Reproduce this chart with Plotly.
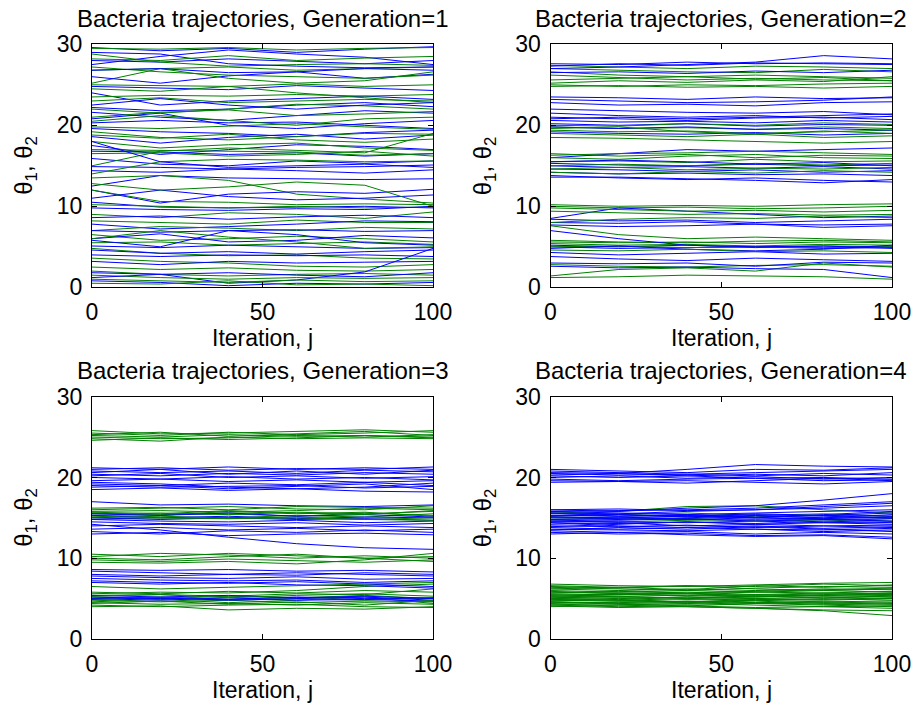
import plotly.graph_objects as go

iterations = [0, 20, 40, 60, 80, 100]
generations = [1, 2, 3, 4]
tick_x = [0, 50, 100]
tick_y = [0, 10, 20, 30]

# ---------------- Generation 1 ----------------
gen1_theta1 = [
    [29.6, 29.2, 29.5, 29.0, 29.4, 29.7], [28.0, 27.8, 28.2, 27.9, 27.6, 28.0],
    [27.5, 28.5, 29.3, 28.8, 28.4, 27.5], [26.0, 25.2, 26.1, 26.6, 25.8, 26.3],
    [24.8, 24.6, 24.4, 24.9, 24.6, 24.3], [24.0, 22.5, 23.0, 23.3, 23.6, 23.2],
    [22.2, 21.8, 22.0, 22.5, 22.8, 22.3], [21.6, 21.0, 20.6, 21.2, 21.8, 21.5],
    [20.8, 21.5, 20.0, 19.6, 20.2, 20.6], [20.3, 20.6, 20.3, 20.4, 20.0, 19.6],
    [19.6, 19.2, 19.0, 18.6, 19.1, 19.4], [18.6, 17.8, 18.5, 18.9, 18.3, 18.8],
    [17.5, 16.4, 17.0, 17.6, 17.4, 17.0], [16.8, 16.7, 16.4, 16.6, 16.2, 16.5],
    [15.9, 15.2, 15.0, 15.6, 15.3, 15.6], [14.9, 14.8, 14.6, 14.8, 14.9, 15.1],
    [14.4, 14.2, 14.6, 14.4, 14.1, 14.5], [12.5, 13.8, 13.5, 13.4, 13.3, 13.4],
    [12.0, 10.4, 11.5, 11.8, 11.6, 12.1], [10.5, 9.9, 9.8, 9.9, 10.0, 9.8],
    [9.8, 9.6, 9.5, 9.7, 9.6, 10.0], [8.6, 8.8, 8.4, 8.7, 8.9, 8.6],
    [7.8, 7.2, 7.5, 7.8, 8.2, 8.1], [7.0, 6.8, 7.0, 7.1, 6.9, 7.0],
    [6.0, 6.6, 5.6, 5.8, 6.4, 6.1], [5.1, 4.9, 5.2, 5.0, 4.8, 4.9],
    [4.6, 4.2, 4.4, 4.1, 4.4, 4.6], [4.0, 3.8, 4.0, 3.9, 4.0, 3.8],
    [3.2, 2.8, 3.2, 3.0, 3.1, 3.2], [1.8, 1.6, 0.5, 0.9, 1.9, 4.8],
    [1.2, 1.6, 1.8, 1.5, 1.3, 1.8], [0.8, 0.6, 0.2, 0.5, 0.4, 0.6],
    [5.8, 5.0, 7.0, 6.5, 5.5, 5.2], [11.0, 12.0, 11.2, 10.8, 11.0, 11.4],
    [18.0, 15.5, 14.8, 15.0, 15.2, 14.8], [29.0, 28.8, 27.6, 27.3, 27.1, 27.2],
    [22.5, 23.3, 22.5, 22.0, 22.5, 22.8], [26.8, 27.0, 26.5, 26.6, 27.0, 26.8],
]
gen1_theta2 = [
    [29.5, 29.4, 29.6, 29.3, 29.5, 29.6], [28.8, 27.8, 27.3, 27.5, 27.6, 27.4],
    [25.2, 27.0, 27.2, 26.8, 27.0, 27.2], [27.2, 26.6, 26.2, 26.0, 25.8, 26.2],
    [26.8, 27.0, 25.8, 25.2, 25.5, 26.6], [25.0, 24.9, 24.8, 25.1, 24.8, 25.0],
    [24.5, 24.2, 24.8, 24.0, 23.4, 22.8], [23.0, 23.4, 22.8, 23.0, 23.2, 23.0],
    [22.0, 21.5, 22.0, 22.6, 22.4, 22.0], [21.0, 21.6, 21.9, 21.2, 21.4, 21.7],
    [19.8, 19.6, 19.9, 20.2, 19.8, 19.5], [19.2, 18.5, 18.2, 18.6, 19.0, 18.9],
    [18.0, 17.2, 17.6, 17.8, 17.2, 16.9], [17.0, 16.9, 16.8, 16.7, 16.3, 16.5],
    [16.5, 16.6, 16.2, 16.4, 16.8, 16.2], [15.0, 16.8, 17.2, 16.9, 16.6, 19.0],
    [14.0, 15.5, 15.8, 15.7, 15.5, 15.6], [13.5, 13.8, 13.2, 11.5, 10.9, 10.4],
    [12.0, 10.6, 10.5, 10.2, 10.3, 10.2], [10.2, 10.0, 9.8, 10.0, 9.8, 9.9],
    [9.0, 8.6, 9.2, 9.0, 8.5, 9.3], [8.2, 8.0, 7.8, 8.3, 8.0, 8.0],
    [7.0, 7.5, 7.3, 7.0, 7.4, 7.2], [6.5, 5.8, 6.0, 6.3, 6.0, 5.6],
    [5.5, 5.6, 5.2, 5.4, 5.6, 5.3], [4.8, 4.2, 3.9, 4.0, 3.6, 3.5],
    [3.6, 3.2, 3.0, 2.6, 2.5, 2.8], [2.5, 2.2, 2.4, 2.1, 2.0, 2.2],
    [2.0, 1.6, 1.4, 1.6, 1.7, 1.5], [1.5, 1.2, 1.0, 1.2, 1.1, 1.2],
    [1.0, 0.8, 0.6, 0.9, 0.7, 0.8], [0.5, 0.4, 0.8, 0.3, 0.4, 0.2],
    [20.5, 21.2, 20.6, 20.0, 20.8, 21.0], [12.8, 12.0, 12.4, 13.0, 12.6, 10.0],
    [6.0, 7.0, 6.2, 5.6, 4.8, 5.0], [28.2, 28.0, 28.6, 28.0, 28.3, 28.5],
    [23.5, 23.7, 23.6, 23.8, 23.6, 23.8], [18.8, 18.4, 18.9, 18.2, 17.9, 18.3],
]

# ---------------- Generation 2 ----------------
gen2_theta1 = [
    [27.6, 27.5, 27.8, 27.6, 27.7, 27.6], [27.3, 27.6, 27.4, 27.7, 27.6, 27.5],
    [27.0, 27.2, 27.5, 27.8, 28.6, 28.2], [26.5, 26.6, 26.4, 26.7, 26.5, 26.8],
    [23.2, 23.0, 22.8, 22.9, 23.1, 23.5], [22.8, 22.5, 22.6, 22.4, 22.8, 22.9],
    [22.0, 21.8, 21.6, 21.5, 21.7, 21.3], [21.5, 21.2, 21.0, 21.2, 20.9, 21.1],
    [21.0, 20.8, 20.6, 20.9, 21.0, 20.7], [20.6, 20.4, 20.5, 20.3, 20.6, 20.4],
    [20.2, 20.0, 20.2, 19.9, 20.1, 20.0], [19.8, 19.6, 19.8, 19.5, 19.6, 19.4],
    [19.2, 19.0, 18.9, 19.1, 18.8, 19.0], [16.0, 16.5, 17.0, 16.8, 17.0, 17.2],
    [15.3, 15.1, 15.0, 15.2, 15.0, 15.1], [15.0, 14.8, 14.9, 14.7, 14.9, 14.6],
    [14.6, 14.5, 14.3, 14.5, 14.2, 14.4], [14.2, 14.0, 14.1, 13.9, 14.0, 13.8],
    [13.8, 13.5, 13.3, 13.5, 13.2, 13.0], [13.6, 13.6, 13.4, 13.2, 12.9, 13.3],
    [8.5, 9.8, 9.4, 9.0, 8.6, 8.8], [8.4, 8.2, 8.3, 8.0, 8.2, 8.4],
    [8.0, 7.9, 8.1, 7.8, 7.7, 7.8], [7.7, 7.5, 7.6, 7.8, 7.4, 7.6],
    [5.2, 5.0, 5.2, 4.9, 5.1, 5.0], [5.0, 4.8, 4.9, 5.0, 4.8, 4.9],
    [4.8, 5.1, 4.7, 4.5, 4.7, 5.2], [4.3, 4.0, 4.2, 4.4, 4.1, 4.2],
    [3.8, 3.5, 3.3, 3.6, 3.4, 3.2], [3.0, 2.9, 3.0, 2.6, 3.1, 3.0],
    [2.6, 2.4, 2.5, 2.3, 2.2, 1.2], [7.0, 6.0, 5.2, 5.0, 5.1, 4.8],
    [20.8, 21.0, 20.8, 21.0, 21.2, 21.4], [15.5, 15.7, 15.5, 15.2, 15.4, 15.0],
    [23.5, 23.4, 23.2, 23.5, 23.3, 23.4],
]
gen2_theta2 = [
    [27.4, 27.2, 27.0, 27.3, 27.2, 27.0], [27.0, 26.8, 26.6, 26.5, 26.9, 26.6],
    [26.6, 26.2, 26.0, 26.2, 26.0, 25.8], [26.2, 25.9, 25.6, 25.8, 25.6, 25.5],
    [25.0, 24.8, 25.0, 24.9, 25.1, 25.2], [24.8, 24.9, 24.7, 24.8, 24.6, 24.8],
    [25.2, 25.5, 25.3, 25.6, 25.4, 26.0], [19.8, 19.6, 19.7, 19.5, 19.8, 19.6],
    [19.4, 19.2, 19.3, 19.0, 19.2, 19.4], [19.0, 18.8, 18.6, 18.9, 18.5, 18.7],
    [18.5, 18.4, 18.2, 18.0, 17.8, 18.0], [20.0, 19.9, 20.2, 20.0, 20.3, 20.1],
    [16.5, 16.2, 16.4, 16.0, 16.3, 16.2], [16.0, 15.8, 16.2, 16.4, 16.0, 15.9],
    [15.5, 15.6, 15.4, 15.8, 15.5, 15.6], [15.0, 15.2, 15.0, 15.3, 15.1, 15.3],
    [14.6, 14.8, 14.5, 14.7, 14.6, 14.8], [16.3, 16.5, 16.6, 16.8, 16.6, 16.4],
    [10.2, 10.0, 10.1, 10.0, 10.2, 10.3], [10.0, 9.8, 9.9, 9.7, 9.8, 10.0],
    [9.8, 9.6, 9.4, 9.5, 9.3, 9.5], [9.4, 9.2, 9.0, 9.1, 8.9, 9.0],
    [7.6, 6.5, 6.0, 6.2, 6.0, 5.8], [5.6, 5.5, 5.6, 5.4, 5.6, 5.5],
    [5.4, 5.2, 5.3, 5.1, 5.3, 5.2], [5.0, 5.1, 4.9, 5.0, 4.9, 5.0],
    [5.8, 5.6, 5.5, 5.7, 5.8, 5.6], [4.6, 4.5, 4.7, 4.4, 4.5, 4.3],
    [2.8, 2.6, 2.5, 2.7, 2.8, 2.6], [1.4, 2.2, 2.4, 2.0, 3.0, 2.5],
    [1.2, 1.3, 1.5, 1.4, 1.3, 1.0], [8.0, 8.4, 8.6, 8.5, 8.8, 8.6],
    [25.6, 25.8, 26.0, 25.7, 25.9, 25.5], [14.2, 14.0, 14.3, 14.1, 14.4, 14.2],
    [19.6, 19.8, 19.2, 18.9, 19.3, 19.0],
]

# ---------------- Generation 3 ----------------
gen3_theta1 = [
    [21.0, 21.2, 20.9, 21.1, 21.0, 21.3], [20.8, 20.6, 20.8, 20.5, 20.9, 20.7],
    [20.6, 21.0, 20.4, 20.8, 20.4, 20.9], [20.4, 20.2, 20.5, 20.3, 20.6, 20.4],
    [20.2, 20.5, 20.0, 20.2, 19.9, 20.1], [20.0, 19.8, 20.1, 19.8, 20.0, 19.7],
    [19.6, 19.8, 19.5, 19.7, 19.4, 19.6], [19.2, 19.0, 19.3, 19.1, 19.4, 19.0],
    [19.0, 18.8, 18.9, 19.0, 18.7, 18.9], [18.8, 19.0, 18.6, 18.9, 19.2, 18.5],
    [19.4, 19.2, 18.8, 18.6, 18.8, 19.3], [17.0, 16.6, 16.7, 16.5, 16.4, 16.6],
    [15.3, 15.0, 15.2, 14.9, 15.1, 15.0], [15.0, 14.8, 15.0, 14.8, 14.9, 14.7],
    [14.8, 14.6, 14.5, 14.7, 14.4, 14.6], [14.5, 14.3, 14.2, 14.4, 14.1, 14.3],
    [14.0, 14.2, 14.0, 13.8, 14.0, 13.8], [13.6, 13.8, 13.5, 13.7, 13.4, 13.6],
    [13.3, 13.0, 13.4, 13.2, 13.5, 13.2], [13.0, 13.2, 12.8, 13.0, 13.1, 12.9],
    [14.2, 13.5, 12.6, 11.8, 11.3, 11.1], [15.5, 15.3, 15.6, 15.2, 15.4, 15.1],
    [8.6, 8.5, 8.6, 8.4, 8.5, 8.3], [8.4, 8.2, 8.0, 8.2, 8.0, 7.8],
    [8.0, 7.8, 8.0, 7.9, 8.2, 8.0], [7.8, 7.6, 7.5, 7.7, 7.4, 7.5],
    [7.5, 7.3, 7.2, 7.3, 7.0, 7.2], [7.2, 7.0, 6.9, 7.1, 6.8, 6.5],
    [7.0, 6.8, 7.0, 6.7, 6.6, 6.3], [5.4, 5.2, 5.4, 5.1, 5.3, 5.0],
    [5.2, 5.0, 4.9, 5.2, 5.0, 5.1], [5.0, 4.8, 5.1, 4.8, 4.9, 4.7],
    [4.9, 5.1, 4.8, 5.0, 5.2, 4.8], [21.2, 21.0, 21.3, 21.0, 21.2, 21.0],
    [18.5, 18.7, 18.4, 18.6, 18.3, 18.2],
]
gen3_theta2 = [
    [25.8, 25.4, 25.5, 25.7, 25.9, 25.6], [25.5, 25.2, 25.6, 25.3, 25.5, 25.8],
    [25.2, 25.0, 25.3, 25.1, 25.2, 25.0], [25.0, 24.8, 24.9, 25.2, 25.0, 25.3],
    [24.8, 24.5, 25.0, 24.8, 24.9, 24.8], [24.6, 24.9, 24.7, 24.9, 25.2, 24.9],
    [16.0, 16.2, 16.4, 16.1, 16.0, 16.5], [15.8, 15.9, 15.7, 15.9, 16.2, 16.0],
    [15.5, 15.6, 15.4, 15.7, 15.5, 15.8], [15.3, 15.4, 15.5, 15.2, 15.6, 15.3],
    [15.0, 15.2, 15.0, 15.3, 15.1, 15.5], [15.6, 15.3, 15.8, 15.5, 15.7, 15.2],
    [14.8, 15.0, 14.9, 15.1, 14.8, 15.0], [10.2, 10.6, 10.4, 10.0, 10.3, 10.0],
    [10.0, 9.8, 10.2, 10.5, 10.0, 9.6], [9.8, 9.6, 9.9, 9.7, 9.5, 9.8],
    [9.5, 9.4, 9.6, 9.3, 9.8, 10.6], [5.6, 5.8, 5.7, 6.0, 6.5, 6.8],
    [5.4, 5.5, 5.3, 5.6, 5.5, 6.2], [5.2, 5.0, 5.3, 5.1, 5.4, 5.0],
    [5.0, 5.2, 4.9, 5.0, 4.8, 5.1], [4.8, 4.6, 4.8, 4.5, 4.7, 4.6],
    [4.5, 4.3, 4.4, 4.2, 4.5, 4.3], [4.2, 4.0, 4.2, 4.3, 4.0, 3.9],
    [4.0, 4.1, 3.6, 3.8, 3.7, 4.0], [5.8, 5.6, 5.9, 5.7, 6.0, 5.8],
    [4.6, 4.9, 4.5, 4.8, 5.2, 4.4], [10.5, 10.2, 10.6, 10.3, 10.0, 10.2],
    [15.2, 15.0, 14.9, 15.0, 14.8, 14.7], [16.2, 16.3, 16.0, 16.4, 16.3, 16.2],
    [6.5, 6.2, 6.4, 6.6, 6.8, 7.0], [25.3, 25.6, 25.1, 25.4, 25.7, 25.2],
    [15.7, 15.5, 15.9, 15.6, 15.4, 15.9], [4.4, 4.7, 4.3, 4.6, 4.2, 4.8],
    [5.3, 5.5, 5.1, 5.4, 5.6, 5.3],
]

# ---------------- Generation 4 ----------------
gen4_theta1 = [
    [21.0, 20.8, 20.6, 21.0, 20.9, 21.2], [20.8, 20.6, 20.4, 20.6, 20.8, 21.0],
    [20.6, 20.5, 21.0, 21.6, 21.4, 21.3], [20.5, 20.3, 20.4, 20.2, 20.5, 20.3],
    [20.3, 20.5, 20.2, 20.4, 20.2, 20.6], [20.2, 20.0, 20.2, 19.9, 20.0, 19.8],
    [20.0, 20.2, 19.9, 20.1, 19.8, 20.0], [19.8, 19.6, 19.8, 19.9, 19.6, 19.7],
    [19.6, 19.5, 19.6, 19.4, 19.2, 19.5], [19.4, 19.5, 19.3, 19.6, 19.9, 19.6],
    [16.0, 15.8, 16.2, 16.5, 17.2, 18.0], [15.8, 15.9, 16.0, 16.2, 16.6, 17.0],
    [15.6, 15.5, 15.8, 16.0, 16.4, 16.8], [15.5, 15.4, 15.2, 15.5, 15.3, 15.6],
    [15.3, 15.2, 15.4, 15.1, 15.3, 15.2], [15.1, 15.0, 15.2, 15.0, 14.9, 15.1],
    [15.0, 14.9, 14.8, 15.0, 14.8, 14.9], [14.8, 14.7, 14.9, 14.6, 14.8, 14.6],
    [14.6, 14.5, 14.4, 14.6, 14.4, 14.5], [14.4, 14.3, 14.5, 14.2, 14.4, 14.2],
    [14.2, 14.4, 14.0, 14.2, 14.0, 14.1], [14.0, 13.9, 14.1, 13.8, 14.0, 13.8],
    [13.8, 13.6, 13.8, 13.6, 13.5, 13.7], [13.6, 13.5, 13.4, 13.6, 13.3, 13.5],
    [13.4, 13.2, 13.3, 13.0, 13.2, 13.0], [13.2, 13.0, 13.1, 12.8, 12.9, 12.6],
    [13.0, 13.2, 12.9, 12.7, 12.8, 12.4], [15.8, 15.6, 15.4, 15.6, 15.8, 16.0],
    [14.6, 14.8, 15.0, 15.3, 15.0, 15.4], [13.9, 14.2, 14.5, 14.3, 14.6, 14.4],
    [15.2, 15.4, 15.1, 15.4, 15.2, 15.0], [14.4, 14.0, 13.8, 14.0, 13.7, 13.9],
    [15.6, 15.2, 15.3, 15.0, 15.4, 15.8], [13.5, 13.8, 13.6, 13.9, 13.6, 13.3],
    [16.0, 16.1, 15.9, 16.0, 16.2, 16.5],
]
gen4_theta2 = [
    [15.6, 15.8, 16.4, 16.5, 16.0, 15.6], [15.2, 15.4, 15.6, 15.3, 15.5, 15.2],
    [15.0, 15.1, 14.9, 15.2, 15.0, 15.1], [14.8, 15.0, 14.8, 14.7, 14.9, 14.6],
    [14.6, 14.5, 14.7, 14.8, 14.6, 14.9], [6.8, 6.6, 6.5, 6.7, 6.9, 7.0],
    [6.6, 6.4, 6.6, 6.5, 6.8, 6.6], [6.4, 6.2, 6.0, 6.3, 6.5, 6.4],
    [6.2, 6.0, 6.2, 6.0, 6.2, 6.1], [6.0, 5.8, 6.0, 5.8, 6.0, 5.8],
    [5.8, 5.7, 5.6, 5.8, 5.7, 5.6], [5.6, 5.5, 5.6, 5.4, 5.6, 5.5],
    [5.5, 5.3, 5.4, 5.2, 5.4, 5.2], [5.3, 5.2, 5.1, 5.3, 5.1, 5.3],
    [5.2, 5.0, 5.2, 5.0, 5.2, 5.0], [5.0, 5.1, 4.9, 5.0, 4.9, 5.1],
    [4.9, 4.8, 5.0, 4.8, 5.0, 4.8], [4.8, 4.7, 4.6, 4.8, 4.6, 4.7],
    [4.6, 4.5, 4.7, 4.5, 4.6, 4.4], [4.5, 4.4, 4.3, 4.5, 4.3, 4.2],
    [4.3, 4.2, 4.4, 4.2, 4.0, 4.1], [4.2, 4.0, 4.1, 3.9, 4.0, 3.8],
    [4.0, 4.2, 4.0, 3.8, 3.6, 3.5], [4.1, 3.9, 4.0, 3.8, 3.5, 2.9],
    [6.2, 6.4, 6.1, 6.6, 6.4, 6.7], [5.7, 5.9, 5.7, 5.9, 6.1, 6.3],
    [5.4, 5.6, 5.3, 5.5, 5.7, 5.9], [5.1, 5.3, 5.0, 5.2, 5.4, 5.6],
    [4.7, 4.9, 4.6, 4.9, 4.8, 5.0], [4.4, 4.6, 4.5, 4.7, 4.4, 4.5],
    [5.9, 5.6, 5.8, 5.5, 5.3, 5.4], [6.5, 6.3, 6.6, 6.2, 6.0, 6.2],
    [4.6, 4.3, 4.1, 4.4, 4.2, 4.0], [5.3, 5.5, 5.6, 5.3, 5.5, 5.7],
    [5.0, 4.8, 4.6, 4.4, 4.5, 4.3],
]

theta1_all = [gen1_theta1, gen2_theta1, gen3_theta1, gen4_theta1]
theta2_all = [gen1_theta2, gen2_theta2, gen3_theta2, gen4_theta2]

BLUE = "#0000ff"
GREEN = "#008000"
FONT = "Liberation Sans, Arial, Helvetica, sans-serif"

W, H = 917, 706
# plot-area pixel boxes (left, right, top, bottom)
boxes = [(92, 433, 44.3, 287.3), (550.5, 892, 44.3, 287.3),
         (92, 433, 396.7, 639), (550.5, 892, 396.7, 639)]

fig = go.Figure()
layout = dict(width=W, height=H, autosize=False,
              margin=dict(l=0, r=0, t=0, b=0, pad=0, autoexpand=False),
              paper_bgcolor="white", plot_bgcolor="white", showlegend=False)
annotations = []

for i, g in enumerate(generations):
    sfx = "" if i == 0 else str(i + 1)
    xa, ya = "x" + sfx, "y" + sfx
    t1, t2 = theta1_all[i], theta2_all[i]
    n = max(len(t1), len(t2))
    for k in range(n):
        if k < len(t1):
            fig.add_trace(go.Scatter(x=iterations, y=t1[k], mode="lines",
                                     line=dict(color=BLUE, width=1),
                                     xaxis=xa, yaxis=ya, hoverinfo="skip"))
        if k < len(t2):
            fig.add_trace(go.Scatter(x=iterations, y=t2[k], mode="lines",
                                     line=dict(color=GREEN, width=1),
                                     xaxis=xa, yaxis=ya, hoverinfo="skip"))
    l, r, t, b = boxes[i]
    xd = [l / W, r / W]
    yd = [(H - b) / H, (H - t) / H]
    common = dict(ticks="inside", ticklen=5, tickcolor="black", showline=True,
                  linecolor="black", linewidth=1, mirror="ticks", showgrid=False,
                  zeroline=False, automargin=False,
                  tickfont=dict(family=FONT, size=23, color="black"))
    layout["xaxis" + sfx] = dict(domain=xd, range=[0, 100], tickvals=tick_x,
                                 anchor=ya, ticklabelstandoff=4, **common)
    layout["yaxis" + sfx] = dict(domain=yd, range=[0, 30], tickvals=tick_y,
                                 anchor=xa, ticklabelstandoff=4, **common)
    cx = (xd[0] + xd[1]) / 2
    annotations.append(dict(text=f"Bacteria trajectories, Generation={g}",
                            x=cx, y=(H - (t - 26)) / H, xref="paper", yref="paper",
                            showarrow=False, xanchor="center", yanchor="middle",
                            font=dict(family=FONT, size=24, color="black")))
    annotations.append(dict(text="Iteration, j", x=cx, y=(H - (b + 51)) / H,
                            xref="paper", yref="paper", showarrow=False,
                            xanchor="center", yanchor="middle",
                            font=dict(family=FONT, size=23, color="black")))
    annotations.append(dict(text="θ<sub>1</sub>, θ<sub>2</sub>",
                            x=(l - 66) / W, y=(H - (t + b) / 2) / H,
                            xref="paper", yref="paper", showarrow=False,
                            textangle=-90, xanchor="center", yanchor="middle",
                            font=dict(family=FONT, size=24, color="black")))

layout["annotations"] = annotations
fig.update_layout(**layout)
fig.write_html("out.html")
